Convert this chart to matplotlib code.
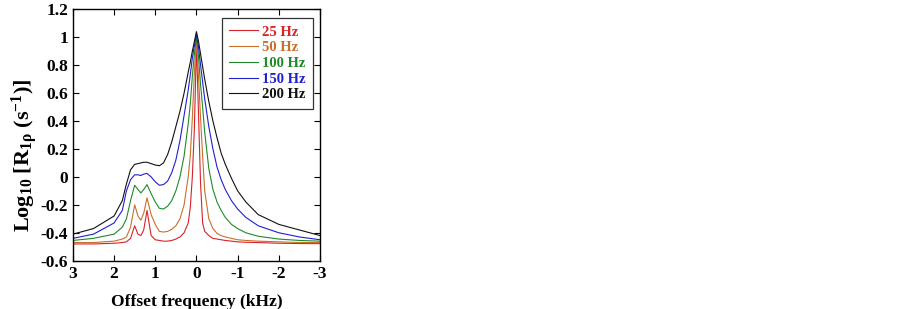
import numpy as np
import matplotlib
matplotlib.use("Agg")
import matplotlib.pyplot as plt

# offset frequency (kHz), axis runs from +3 down to -3
offset = [3, 2.5, 2, 1.8, 1.7, 1.6, 1.5, 1.42, 1.35, 1.28, 1.2, 1.1, 1.0, 0.9, 0.8, 0.7,
          0.6, 0.5, 0.4, 0.3, 0.2, 0.15, 0.1, 0.05, 0,
          -0.05, -0.1, -0.15, -0.2, -0.3, -0.4, -0.5, -0.6, -0.7, -0.85, -1, -1.2, -1.5,
          -2, -2.5, -3]

r_25 = [-0.48, -0.48, -0.475, -0.47, -0.465, -0.44, -0.35, -0.41, -0.42, -0.38, -0.24, -0.42,
        -0.45, -0.455, -0.46, -0.46, -0.455, -0.445, -0.43, -0.40, -0.33, -0.22, 0.0, 0.35,
        0.95,
        0.45, -0.05, -0.33, -0.39, -0.42, -0.44, -0.445, -0.45, -0.455, -0.46, -0.465, -0.468,
        -0.47, -0.475, -0.477, -0.478]
r_50 = [-0.47, -0.47, -0.46, -0.445, -0.43, -0.36, -0.2, -0.28, -0.31, -0.26, -0.15, -0.27,
        -0.34, -0.39, -0.395, -0.39, -0.375, -0.35, -0.3, -0.2, 0.0, 0.15, 0.42, 0.75,
        0.98,
        0.72, 0.42, 0.15, -0.1, -0.3, -0.37, -0.405, -0.42, -0.43, -0.44, -0.45, -0.455,
        -0.46, -0.465, -0.47, -0.47]
r_100 = [-0.455, -0.44, -0.41, -0.36, -0.3, -0.17, -0.06, -0.09, -0.115, -0.09, -0.055, -0.12,
         -0.18, -0.225, -0.23, -0.21, -0.17, -0.1, 0.0, 0.15, 0.38, 0.52, 0.72, 0.88,
         1.0,
         0.86, 0.66, 0.5, 0.32, 0.06, -0.09, -0.18, -0.24, -0.29, -0.34, -0.37, -0.4,
         -0.425, -0.445, -0.455, -0.46]
r_150 = [-0.44, -0.41, -0.33, -0.24, -0.1, -0.02, 0.015, 0.015, 0.01, 0.02, 0.025, 0.0,
         -0.035, -0.06, -0.055, -0.03, 0.03, 0.12, 0.26, 0.44, 0.62, 0.73, 0.85, 0.94,
         1.02,
         0.93, 0.8, 0.68, 0.56, 0.36, 0.2, 0.07, -0.02, -0.09, -0.17, -0.23, -0.29,
         -0.35, -0.4, -0.43, -0.45]
r_200 = [-0.41, -0.37, -0.28, -0.17, -0.05, 0.05, 0.09, 0.095, 0.1, 0.105, 0.105, 0.095,
         0.085, 0.08, 0.1, 0.16, 0.25, 0.36, 0.47, 0.6, 0.75, 0.82, 0.9, 0.97,
         1.04,
         0.97, 0.88, 0.79, 0.7, 0.54, 0.4, 0.28, 0.17, 0.09, -0.01, -0.1, -0.18,
         -0.27, -0.34, -0.38, -0.42]

labels = ["25 Hz", "50 Hz", "100 Hz", "150 Hz", "200 Hz"]
colors = ["#d8232a", "#c8702a", "#1f8a2a", "#2020d0", "#111111"]
series = [r_25, r_50, r_100, r_150, r_200]

plt.rcParams["font.family"] = ["Liberation Serif", "DejaVu Serif"]
plt.rcParams["font.weight"] = "bold"
plt.rcParams["mathtext.default"] = "regular"

fig = plt.figure(figsize=(9.03, 3.09), dpi=100)
ax = fig.add_axes([0.0807, 0.1563, 0.2737, 0.8136])

for y, lab, c in zip(series, labels, colors):
    ax.plot(offset, y, color=c, lw=0.8, label=lab)

ax.set_xlim(3, -3)
ax.set_ylim(-0.6, 1.2)
ax.set_xticks([3, 2, 1, 0, -1, -2, -3])
ax.set_xticklabels(["3", "2", "1", "0", "-1", "-2", "-3"])
ax.set_yticks(np.arange(-0.6, 1.21, 0.2))
ax.set_yticklabels(["-0.6", "-0.4", "-0.2", "0", "0.2", "0.4", "0.6", "0.8", "1", "1.2"])
ax.tick_params(direction="in", top=True, right=True, length=4, width=0.8, labelsize=12.5)
for s in ax.spines.values():
    s.set_linewidth(1.0)

ax.set_xlabel("Offset frequency (kHz)", fontsize=12.5, fontweight="bold", labelpad=9)
ax.set_ylabel(r"Log$_{10}$ [R$_{1\rho}$ (s$^{-1}$)]", fontsize=16, fontweight="bold")
ax.yaxis.set_label_coords(-0.135, 0.42)

leg = ax.legend(loc="upper right", fontsize=10.5, frameon=True, fancybox=False,
                edgecolor="black", handlelength=2.0, handletextpad=0.25, borderpad=0.5,
                labelspacing=0.17, bbox_to_anchor=(0.971, 0.965), borderaxespad=0)
leg.get_frame().set_linewidth(0.9)
for t, c in zip(leg.get_texts(), colors):
    t.set_color(c)
    t.set_fontweight("bold")

fig.savefig("out.png", dpi=100)
